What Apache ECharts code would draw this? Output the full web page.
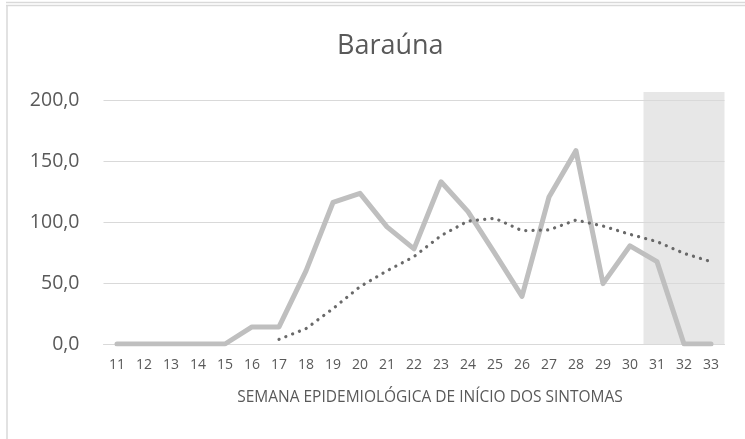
<!DOCTYPE html>
<html>
<head>
<meta charset="utf-8">
<script src="https://cdn.jsdelivr.net/npm/echarts@6/dist/echarts.min.js"></script>
<style>
html,body{margin:0;padding:0;background:#fff;}
#chart{width:745px;height:439px;}
</style>
</head>
<body>
<div id="chart"></div>
<script>
const weeks = ['11','12','13','14','15','16','17','18','19','20','21','22','23','24','25','26','27','28','29','30','31','32','33'];
const incidence = [0,0,0,0,0,14,14,60,116,123.5,96,78,133,108.5,74,39,120.5,158.5,49.5,80.5,67.5,0,0];
const movingAvg = [null,null,null,null,null,null,3.8,12.6,29,47,60,71.6,88.8,100.8,103,92.9,93.5,101.6,96.7,89.9,83.9,74.3,67.5];
const yTicks = [0,50,100,150,200];
// shaded period: weeks 31–33 (band edges 30.5 to 33.5), up to slightly above the 200 line
const shadeWeeks = [30.5, 33.5];
const shadeTop = 206.5;

const chart = echarts.init(document.getElementById('chart'));
chart.setOption({
  animation: false,
  backgroundColor: '#fff',
  graphic: [
    {type:'line', shape:{x1:6,y1:2.5,x2:745,y2:2.5}, style:{stroke:'#d9d9d9',lineWidth:1.5}},
    {type:'line', shape:{x1:6,y1:5.5,x2:745,y2:5.5}, style:{stroke:'#d9d9d9',lineWidth:1.5}},
    {type:'line', shape:{x1:7,y1:5,x2:7,y2:439}, style:{stroke:'#d9d9d9',lineWidth:1.5}}
  ],
  title: {
    text: 'Baraúna', left: 332, top: 28,
    textStyle: {fontFamily: 'Open Sans', fontWeight: 'normal', fontSize: 27, color: '#595959'}
  },
  grid: [
    {left: 103.5, right: 20.5, top: 100, bottom: 95},
    {left: 103.5, right: 20.5, top: 92, bottom: 95}
  ],
  xAxis: [{
    type: 'category', data: weeks, boundaryGap: true, gridIndex: 0,
    name: 'SEMANA EPIDEMIOLÓGICA DE INÍCIO DOS SINTOMAS',
    nameLocation: 'middle', nameGap: 46,
    nameTextStyle: {fontFamily: 'Open Sans', fontSize: 15.5, color: '#595959', padding: [0, 0, 0, 32]},
    axisLine: {lineStyle: {color: '#d9d9d9', width: 1}},
    axisTick: {show: false},
    axisLabel: {fontFamily: 'Open Sans', fontSize: 14, color: '#595959', margin: 14, interval: 0}
  }, {
    type: 'value', gridIndex: 1, min: 10.5, max: 33.5, show: false
  }],
  yAxis: [{
    type: 'value', min: 0, max: 200, interval: 50, gridIndex: 0,
    axisLine: {show: false}, axisTick: {show: false},
    splitLine: {lineStyle: {color: '#d9d9d9', width: 1}},
    axisLabel: {fontFamily: 'Open Sans', fontSize: 19.5, color: '#595959', margin: 24,
      formatter: v => yTicks.includes(v) ? v.toFixed(1).replace('.', ',') : ''}
  }, {
    type: 'value', gridIndex: 1, min: 0, max: shadeTop, show: false
  }],
  series: [
    {
      type: 'line', xAxisIndex: 1, yAxisIndex: 1, z: -1, silent: true,
      data: shadeWeeks.map(w => [w, shadeTop]), symbol: 'none',
      lineStyle: {width: 0}, areaStyle: {color: '#e7e7e7', opacity: 1}
    },
    {
      type: 'line', data: incidence, symbol: 'none',
      lineStyle: {color: '#bfbfbf', width: 5, cap: 'round', join: 'round'},
      z: 3
    },
    {
      type: 'line', data: movingAvg, symbol: 'none', connectNulls: false,
      lineStyle: {color: '#696969', width: 3.2, type: [0.1, 7.2], cap: 'round'},
      z: 4
    }
  ]
});
</script>
</body>
</html>
